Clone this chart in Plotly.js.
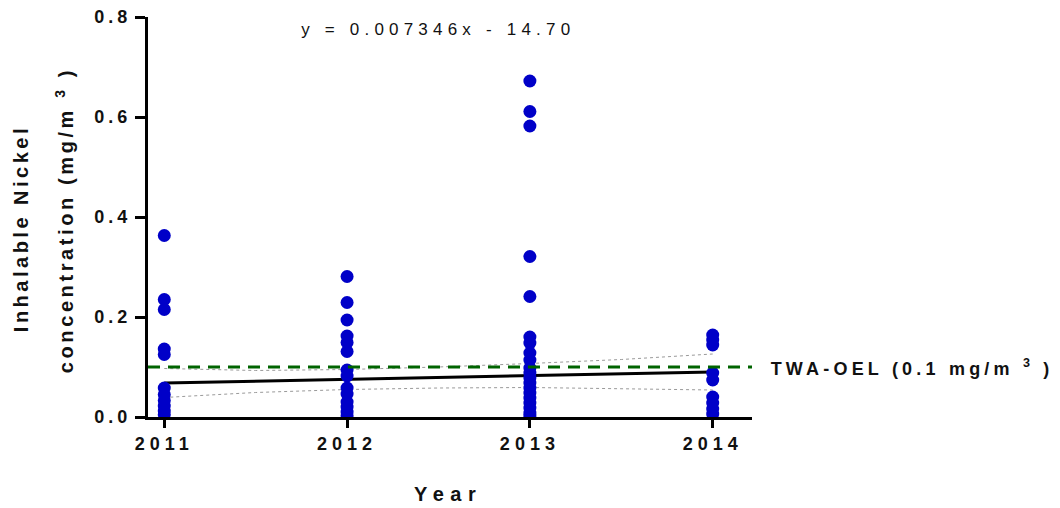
<!DOCTYPE html>
<html>
<head>
<meta charset="utf-8">
<script src="https://cdn.plot.ly/plotly-3.0.1.min.js"></script>
<style>
  html, body { margin: 0; padding: 0; background: #fff; }
  #chart { width: 1060px; height: 508px; }
  .xtick text { letter-spacing: 5px; }
  .ytick text { letter-spacing: 4px; }
  .annotation-text { letter-spacing: 3.5px; }
</style>
</head>
<body>
<div id="chart"></div>
<script>
// ---- data ----
const years = [2011, 2012, 2013, 2014];
const tickLabels = ["2011", "2012", "2013", "2014"];

const nickel2011 = [0.363, 0.235, 0.215, 0.136, 0.125, 0.058, 0.045, 0.033, 0.022, 0.012, 0.005];
const nickel2012 = [0.281, 0.229, 0.194, 0.162, 0.149, 0.131, 0.094, 0.082, 0.058, 0.046, 0.030, 0.020, 0.010, 0.003];
const nickel2013 = [0.672, 0.611, 0.582, 0.321, 0.241, 0.160, 0.148, 0.128, 0.114, 0.098, 0.088, 0.078, 0.068, 0.058, 0.048, 0.038, 0.028, 0.018, 0.008, 0.002];
const nickel2014 = [0.164, 0.154, 0.144, 0.088, 0.074, 0.040, 0.028, 0.016, 0.006];

const fitX = [2011, 2014];
const fitY = [0.068, 0.090];

const bandX = [2011, 2011.5, 2012, 2012.5, 2013, 2013.5, 2014];
const bandLower = [0.039, 0.049, 0.055, 0.058, 0.059, 0.057, 0.054];
const bandUpper = [0.097, 0.093, 0.095, 0.100, 0.107, 0.115, 0.126];

const oelX = [2010.911, 2014.215];
const oelY = [0.1, 0.1];

const xRange = [2010.911, 2014.215];
const yRange = [0, 0.8];

// ---- build point arrays ----
const groups = [nickel2011, nickel2012, nickel2013, nickel2014];
const ptX = [], ptY = [];
groups.forEach((g, i) => g.forEach(v => { ptX.push(years[i]); ptY.push(v); }));

const bold = 'Liberation Sans, Arial, sans-serif';

const traces = [
  { x: bandX, y: bandLower, mode: 'lines', line: { color: '#9a9a9a', width: 1, dash: 'dot' }, hoverinfo: 'skip' },
  { x: bandX, y: bandUpper, mode: 'lines', line: { color: '#9a9a9a', width: 1, dash: 'dot' }, hoverinfo: 'skip' },
  { x: fitX, y: fitY, mode: 'lines', line: { color: '#000', width: 3 } },
  { x: ptX, y: ptY, mode: 'markers', marker: { color: '#0000c8', size: 13 } },
  { x: oelX, y: oelY, mode: 'lines', line: { color: '#006400', width: 3, dash: '12px,8px' } }
];

const layout = {
  width: 1060, height: 508,
  margin: { l: 148, r: 308, t: 17, b: 91, pad: 0 },
  paper_bgcolor: '#fff', plot_bgcolor: '#fff',
  showlegend: false,
  font: { family: bold, color: '#000' },
  xaxis: {
    range: xRange, tickvals: years, ticktext: tickLabels,
    showgrid: false, zeroline: false,
    showline: true, linecolor: '#000', linewidth: 3,
    ticks: 'outside', ticklen: 8, tickwidth: 3, tickcolor: '#000',
    tickfont: { size: 18, weight: 'bold', family: bold, color: '#111' }
  },
  yaxis: {
    range: yRange, tickvals: [0, 0.2, 0.4, 0.6, 0.8], tickformat: '.1f',
    showgrid: false, zeroline: false,
    showline: true, linecolor: '#000', linewidth: 3,
    ticks: 'outside', ticklen: 10, tickwidth: 3, tickcolor: '#000',
    tickfont: { size: 18, weight: 'bold', family: bold, color: '#111' }
  },
  annotations: [
    { text: 'y = 0.007346x - 14.70', xref: 'paper', yref: 'paper', x: 0.480, y: 0.9675,
      xanchor: 'center', yanchor: 'middle', showarrow: false,
      font: { size: 17, family: bold, color: '#111' } },
    { text: 'Inhalable Nickel', xref: 'paper', yref: 'paper', x: -0.2100, y: 0.47,
      xanchor: 'center', yanchor: 'middle', textangle: -90, showarrow: false,
      font: { size: 20, weight: 'bold', family: bold, color: '#111' } },
    { text: 'concentration (mg/m <sup>3</sup> )', xref: 'paper', yref: 'paper', x: -0.1390, y: 0.4925,
      xanchor: 'center', yanchor: 'middle', textangle: -90, showarrow: false,
      font: { size: 20, weight: 'bold', family: bold, color: '#111' } },
    { text: 'Year', xref: 'paper', yref: 'paper', x: 0.4967, y: -0.1925,
      xanchor: 'center', yanchor: 'middle', showarrow: false,
      font: { size: 20, weight: 'bold', family: bold, color: '#111' } },
    { text: 'TWA-OEL (0.1 mg/m <sup>3</sup> )', xref: 'paper', yref: 'y', x: 1.0395, y: 0.1,
      xanchor: 'left', yanchor: 'middle', showarrow: false,
      font: { size: 18, weight: 'bold', family: bold, color: '#111' } }
  ]
};

Plotly.newPlot('chart', traces, layout, { displayModeBar: false, staticPlot: true }).then(() => {
  // per-annotation letter spacing to match the reference's wide tracking
  const spacing = [5.2, 3.5, 3.6, 6.5, 4.2];
  document.querySelectorAll('#chart .annotation').forEach((g, i) => {
    const t = g.querySelector('text.annotation-text');
    if (t && spacing[i] !== undefined) t.style.letterSpacing = spacing[i] + 'px';
  });
});
</script>
</body>
</html>
